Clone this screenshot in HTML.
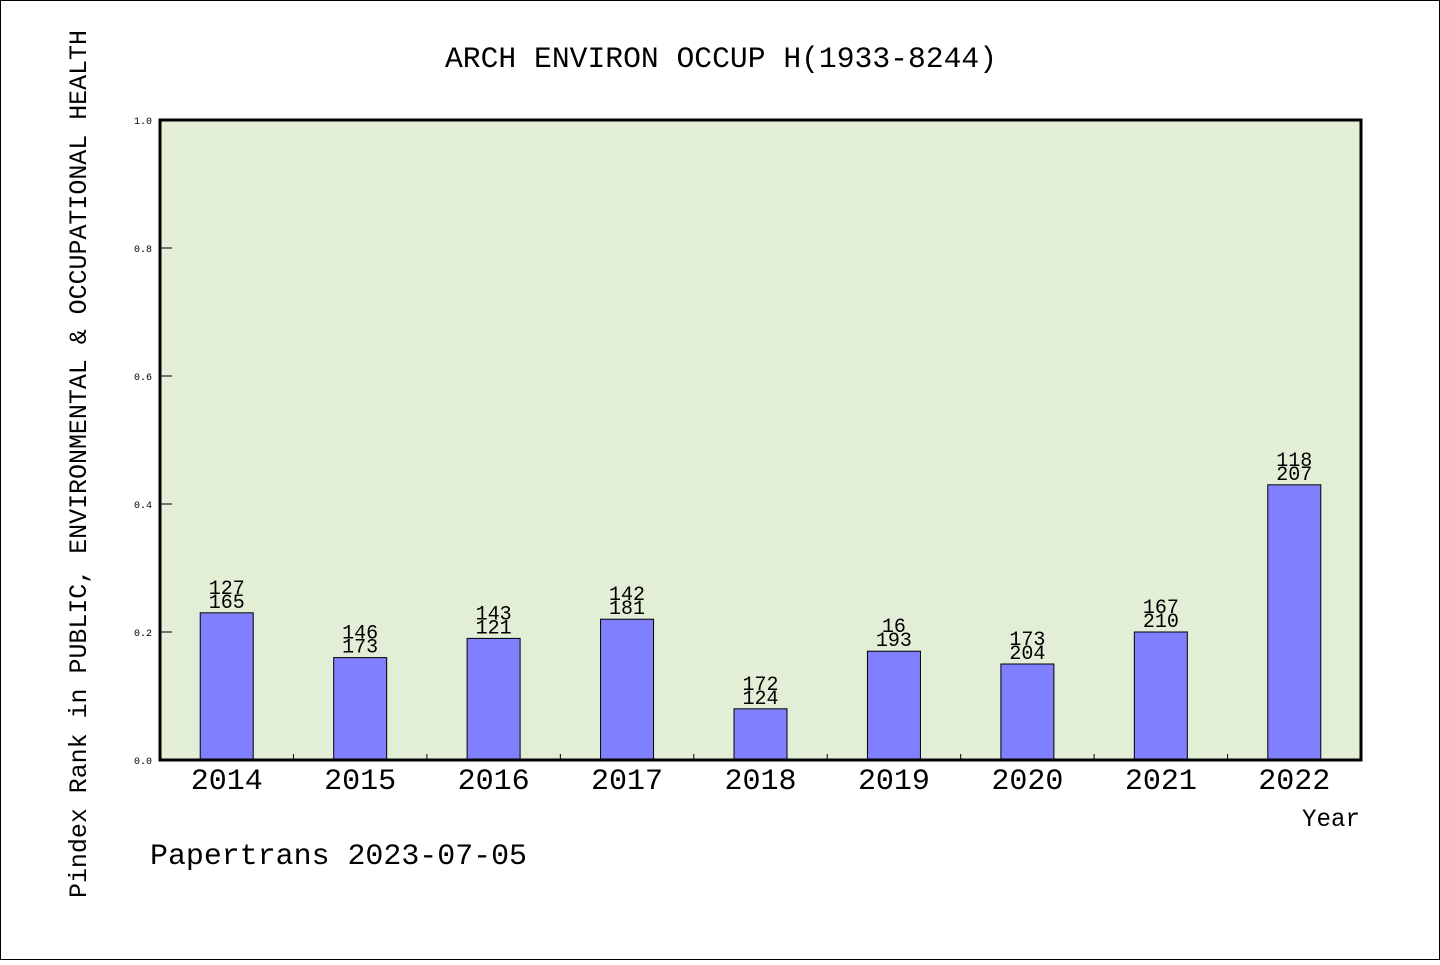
<!DOCTYPE html>
<html><head><meta charset="utf-8"><style>
body{margin:0;background:#fff}
svg text{font-family:"Liberation Mono","DejaVu Sans Mono",monospace;fill:#000}
</style></head><body>
<svg width="1440" height="960" viewBox="0 0 1440 960" xmlns="http://www.w3.org/2000/svg">
<rect x="0.5" y="0.5" width="1439" height="959" fill="#fff" stroke="#000"/>
<text x="445" y="67" font-size="30" textLength="552" lengthAdjust="spacingAndGlyphs">ARCH ENVIRON OCCUP H(1933-8244)</text>
<rect x="160" y="120" width="1201" height="640" fill="#e2efd6"/>
<g id="bars"></g>
<rect x="160" y="120" width="1201" height="640" fill="none" stroke="#000" stroke-width="3"/>
<g id="axes"></g>
<text transform="translate(86,898) rotate(-90)" font-size="25" textLength="868" lengthAdjust="spacingAndGlyphs">Pindex Rank in PUBLIC, ENVIRONMENTAL &amp; OCCUPATIONAL HEALTH</text>
<text x="1302" y="826" font-size="25" textLength="58" lengthAdjust="spacingAndGlyphs">Year</text>
<text x="150" y="864" font-size="30" textLength="377" lengthAdjust="spacingAndGlyphs">Papertrans 2023-07-05</text>
</svg>
<script>
const categories=["2014","2015","2016","2017","2018","2019","2020","2021","2022"];
const values=[0.23,0.16,0.19,0.22,0.08,0.17,0.15,0.20,0.43];
const labelTop=["127","146","143","142","172","16","173","167","118"];
const labelBottom=["165","173","121","181","124","193","204","210","207"];
const yTicks=[0,0.2,0.4,0.6,0.8,1.0];
const NS="http://www.w3.org/2000/svg";
const X0=160,W=1201,Y0=760,H=640,step=W/categories.length,bw=53;
const xc=i=>X0+step*(i+0.5);
const y=v=>Y0-v*H;
const bars=document.getElementById('bars'),axes=document.getElementById('axes');
function mk(tag,attrs,parent,txt){const e=document.createElementNS(NS,tag);for(const k in attrs)e.setAttribute(k,attrs[k]);if(txt!==undefined)e.textContent=txt;parent.appendChild(e);return e;}
categories.forEach((c,i)=>{
  const r=mk('rect',{x:xc(i)-bw/2,y:y(values[i]),width:bw,height:Y0-y(values[i]),fill:'#8080ff',stroke:'#000','stroke-width':1},bars);
  
  
  const t1=mk('text',{x:xc(i),y:y(values[i])-19,'font-size':20,'text-anchor':'middle'},bars,labelTop[i]);
  
  
  const t2=mk('text',{x:xc(i),y:y(values[i])-5,'font-size':20,'text-anchor':'middle'},bars,labelBottom[i]);
  
  
  const xl=mk('text',{x:xc(i),y:789,'font-size':30,'text-anchor':'middle',textLength:72,lengthAdjust:'spacingAndGlyphs'},axes,c);
  
  
  if(i>0){const tk=mk('line',{x1:X0+step*i,x2:X0+step*i,y1:Y0,y2:Y0-6,stroke:'#000'},axes);
  
  }
});
yTicks.forEach(v=>{
  const tk=mk('line',{x1:160,x2:172,y1:y(v),y2:y(v),stroke:'#000'},axes);
  
  
  const tl=mk('text',{x:152,y:y(v)+4,'font-size':10,'text-anchor':'end'},axes,v.toFixed(1));
  
  
});
</script>
</body></html>
